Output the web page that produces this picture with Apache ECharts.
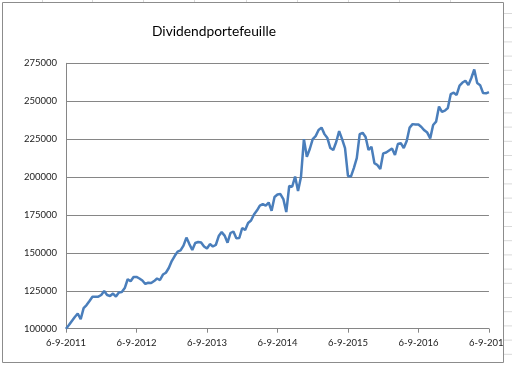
<!DOCTYPE html>
<html>
<head>
<meta charset="utf-8">
<script src="https://cdn.jsdelivr.net/npm/echarts@6/dist/echarts.min.js"></script>
<style>
html,body{margin:0;padding:0;background:#fff;}
#chart{width:512px;height:365px;}
</style>
</head>
<body>
<div id="chart"></div>
<script>
// Title
const chartTitle = 'Dividendportefeuille';

// Semi-monthly observation dates (6th and 21st of each month), 6-9-2011 .. 6-9-2017
const categories = [];
for (let m = 0; m <= 72; m++) {
  const y = 2011 + Math.floor((8 + m) / 12);
  const mo = ((8 + m) % 12) + 1;
  categories.push('6-' + mo + '-' + y);
  if (m < 72) categories.push('21-' + mo + '-' + y);
}

// Portfolio values
const values = [
100000,102400,105100,107700,110000,106200,113600,115600,118300,121100,
121100,121100,122200,124900,122200,121600,123200,121200,123900,124200,
126800,132600,131300,134100,134100,133100,131800,129500,130300,130100,
131400,133100,132100,135700,136900,140000,144600,147900,150800,151600,
154800,160100,155800,151900,156500,157200,156800,154200,152900,155800,
154200,155200,161100,163700,161400,156700,163100,164100,159600,159800,
166400,165100,169700,171300,175300,177900,181200,182200,181200,183200,
177800,186800,188500,188800,185500,176900,194100,193600,200300,190800,
200000,225000,213400,218500,225000,227000,231000,232600,228300,225700,
219100,217800,223100,230300,225000,219100,200700,200300,205900,212500,
228300,229200,226400,217800,220000,209200,207900,205300,215600,216200,
217500,218800,214500,221800,222400,219100,223700,232600,234900,234600,
234600,233000,230800,229300,225500,234300,236500,246500,243000,243800,
245500,254700,255600,254100,260300,262300,263500,260600,265300,270900,
262000,260600,255400,255200,256000
];

// Y axis range
const yMin = 100000, yMax = 275000, yStep = 25000;
// Show an x label every year (24 semi-monthly steps)
const labelEvery = 24;

const chart = echarts.init(document.getElementById('chart'), null, {renderer: 'canvas'});

const FONT = 'Lato, "Open Sans", sans-serif';
const cellLines = [];
for (let i = 0; i < 26; i++) {
  const yy = 13.5 + i * 14.2;
  cellLines.push({type: 'line', z: 101, silent: true,
    shape: {x1: 504, y1: yy, x2: 512, y2: yy},
    style: {stroke: '#d9d9d9', lineWidth: 1}});
}
[42, 92, 143, 194, 246, 297, 348, 399, 450].forEach(function (x) {
  cellLines.push({type: 'line', z: 101, silent: true,
    shape: {x1: x + 0.5, y1: 0, x2: x + 0.5, y2: 2},
    style: {stroke: '#d9d9d9', lineWidth: 1}});
});

chart.setOption({
  animation: false,
  backgroundColor: '#fff',
  title: {
    text: chartTitle,
    left: 147,
    top: 20,
    textStyle: {fontFamily: FONT, fontSize: 13.8, fontWeight: 'normal', color: '#000'}
  },
  grid: {left: 66, right: 19.7, top: 63.3, bottom: 36.3, containLabel: false},
  xAxis: {
    type: 'category',
    data: categories,
    boundaryGap: false,
    axisLine: {show: true, lineStyle: {color: '#868686', width: 1}},
    axisTick: {show: true, length: 4, interval: function (i) { return i % labelEvery === 0; },
      lineStyle: {color: '#868686'}},
    axisLabel: {
      interval: function (i) { return i % labelEvery === 0; },
      margin: 9, fontFamily: FONT, fontSize: 9.5, color: '#222',
      showMaxLabel: true, hideOverlap: false
    },
    splitLine: {show: false}
  },
  yAxis: {
    type: 'value',
    min: yMin, max: yMax, interval: yStep,
    axisLine: {show: true, lineStyle: {color: '#868686', width: 1}},
    axisTick: {show: false},
    axisLabel: {margin: 9, fontFamily: FONT, fontSize: 9.5, color: '#222',
      formatter: function (v) { return String(v); }},
    splitLine: {show: true, lineStyle: {color: '#868686', width: 1}}
  },
  series: [{
    type: 'line',
    data: values,
    symbol: 'none',
    smooth: false,
    lineStyle: {color: '#4A7EBB', width: 2.5},
    clip: false
  }],
  graphic: [
    {type: 'rect', z: 100, silent: true, shape: {x: 503.5, y: 0, width: 10, height: 365},
      style: {fill: '#fff'}},
    {type: 'rect', z: 100, silent: true, shape: {x: 0, y: 363, width: 512, height: 3},
      style: {fill: '#fff'}},
    {type: 'rect', z: 102, silent: true, shape: {x: 2.5, y: 2.5, width: 501, height: 360},
      style: {fill: null, stroke: '#8c8c8c', lineWidth: 1}}
  ].concat(cellLines)
});
</script>
</body>
</html>
